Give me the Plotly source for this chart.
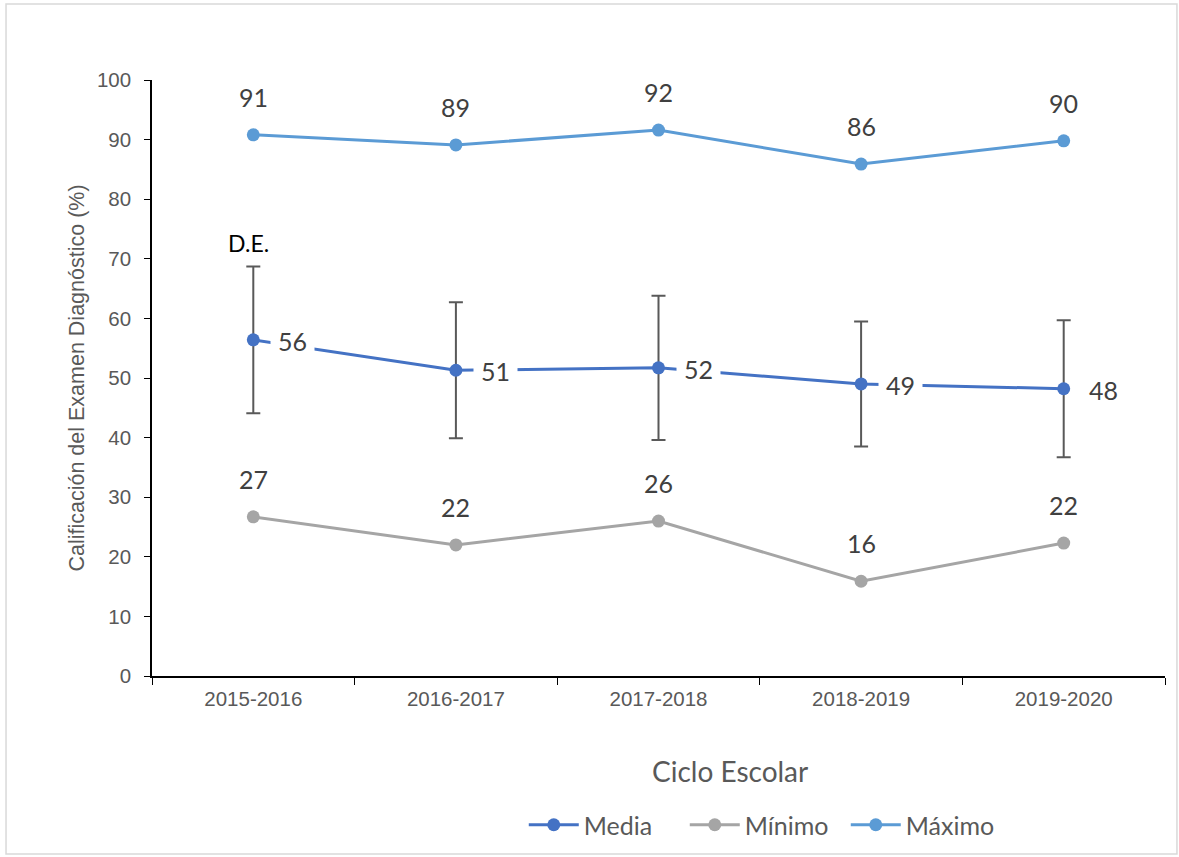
import plotly.graph_objects as go

# data
ciclos = ['2015-2016', '2016-2017', '2017-2018', '2018-2019', '2019-2020']
media = [56.4, 51.3, 51.7, 49.0, 48.2]
media_de = [12.3, 11.4, 12.1, 10.5, 11.5]
minimo = [26.7, 22.0, 26.0, 15.9, 22.3]
maximo = [90.8, 89.1, 91.6, 85.9, 89.8]

label_font = dict(family='Lato', size=25, color='#404040')
tick_font = dict(family='Liberation Sans', size=20.5, color='#595959')

fig = go.Figure()

fig.add_trace(go.Scatter(
    x=ciclos, y=media, name='Media', mode='lines+markers',
    line=dict(color='#4472C4', width=3),
    marker=dict(size=13, color='#4472C4'),
    error_y=dict(type='data', array=media_de, visible=True,
                 color='#595959', thickness=2, width=7),
))
fig.add_trace(go.Scatter(
    x=ciclos, y=minimo, name='Mínimo', mode='lines+markers',
    line=dict(color='#A5A5A5', width=3),
    marker=dict(size=13, color='#A5A5A5'),
))
fig.add_trace(go.Scatter(
    x=ciclos, y=maximo, name='Máximo', mode='lines+markers',
    line=dict(color='#5B9BD5', width=3),
    marker=dict(size=13, color='#5B9BD5'),
))

# value labels above the min / max points
for serie in (minimo, maximo):
    for c, v in zip(ciclos, serie):
        fig.add_annotation(x=c, y=v, text=f'{v:.0f}', showarrow=False,
                           yshift=38, font=label_font)

# Media labels sit to the right on a white box that hides the line
for c, v in zip(ciclos, media):
    fig.add_annotation(x=c, y=v, text=f'{v:.0f}', showarrow=False,
                       xanchor='left', xshift=17, yshift=-1,
                       bgcolor='white', borderpad=7, font=label_font)

fig.add_annotation(x=ciclos[0], y=media[0] + media_de[0], text='D.E.',
                   showarrow=False, yanchor='bottom', yshift=8, xshift=-5,
                   font=dict(family='Lato', size=23, color='black'))

# x axis title is placed off-centre like in the original
fig.add_annotation(xref='paper', yref='paper', x=0.5706, y=-0.1594,
                   xanchor='center', yanchor='middle',
                   text='Ciclo Escolar', showarrow=False,
                   font=dict(family='Lato', size=28, color='#595959'))

# light frame around the whole chart
fig.add_shape(type='rect', xref='paper', yref='paper',
              x0=-0.1441, x1=1.0118, y0=-0.2987, y1=1.1275,
              line=dict(color='#D9D9D9', width=1.5),
              fillcolor='rgba(0,0,0,0)', opacity=1, layer='below')

fig.update_layout(
    width=1179, height=857,
    template='simple_white',
    margin=dict(l=152, r=14, t=80, b=181, autoexpand=False),
    paper_bgcolor='white', plot_bgcolor='white',
    showlegend=True,
    legend=dict(orientation='h', x=0.367, xanchor='left', y=-0.25, yanchor='middle',
                font=dict(family='Lato', size=25, color='#595959'),
                entrywidth=96, entrywidthmode='pixels',
                itemwidth=50, tracegroupgap=0, bgcolor='rgba(0,0,0,0)'),
    xaxis=dict(
        range=[-0.5, 4.5], showline=True, linecolor='black', linewidth=1.5,
        ticks='outside', tickson='boundaries', ticklen=7, tickcolor='black',
        tickfont=tick_font, showgrid=False, ticklabelstandoff=4,
    ),
    yaxis=dict(
        title=dict(text='Calificación del Examen Diagnóstico (%)',
                   font=dict(family='Liberation Sans', size=21.5, color='#595959'),
                   standoff=6),
        range=[0, 100], dtick=10, showline=True, linecolor='black', linewidth=1.5,
        ticks='outside', ticklen=6, tickcolor='black',
        tickfont=tick_font, showgrid=False, zeroline=False, ticklabelstandoff=9,
    ),
)

fig.write_html('out.html', config={'displayModeBar': False},
               post_script="document.body.style.margin='0';")
